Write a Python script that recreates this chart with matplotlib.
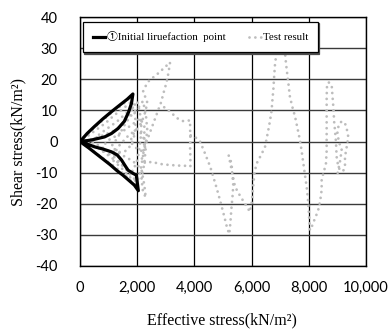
import numpy as np
import matplotlib
matplotlib.use("Agg")
import matplotlib.pyplot as plt
from matplotlib.ticker import FuncFormatter

plt.rcParams['axes.unicode_minus'] = False
plt.rcParams['path.simplify'] = False

# ①Initial liruefaction point (black loop)
init_x = [0, 250, 500, 800, 1100, 1400, 1650, 1850, 1800, 1700, 1550, 1330, 1100, 860, 400, 0,
          250, 510, 800, 1100, 1300, 1450, 1580, 1680, 1850, 1970, 2000, 2040,
          1900, 1700, 1500, 1300, 1050, 800, 550, 300, 0]
init_y = [0, 2.6, 4.8, 7.3, 9.6, 11.8, 13.6, 15.3, 12.3, 9.5, 6.5, 4.2, 2.6, 1.5, 0.5, 0,
          -0.8, -1.7, -2.4, -3.3, -4.3, -5.9, -7.8, -9.2, -10.2, -10.8, -13, -15.8,
          -14, -12.4, -10.8, -9.4, -7.4, -5.6, -3.8, -2.0, 0]

# Test result (gray dotted path, nan = break in the line)
nan = np.nan
test_x = [0, 500, 1000, 1500, 1800, 1850, 1700, 1500, 1200, 800, 400, 150,
          400, 800, 1200, 1500, 1700, 1900, 2000, 1800, 1500, 1200, 900, 600, 300, 100,
          300, 600, 900, 1200, 1500, 1750, 1900, 1950, 1900, 1800, 1600, 1300, 1000, 700, 400,
          700, 1000, 1300, 1600, 1850, 2000, 2100, 2150, 2100, 2000, 1850, 1600, 1300, 1000, 700,
          1000, 1300, 1600, 1900, 2100, 2250, 2250, 2200, 2100, 2000, 1750, 1450, 1150,
          1300, 1500, 1700, 2000, 2200, 2300, 2250, 2150, 2200, 2300, 2250, 2150, 1950, 1700, 1400,
          1100, 1300, 1600, 1800, 2050, 2200, 2300, 2350, 2300, 2150, 1950, 1750, 1900, 2150, 2300,
          2350, 2200,
          2330, 2450, 2620, 2800, 2980, 3150,
          3100, 3050, 2980, 2900, 2850, 2750, 2650, 2550, 2450, 2350, 2250,
          2150, 2300,
          2500, 2800, 3100, 3400, 3700, 3860,
          3860, 3850, 3860, 3850, 3850,
          3600, 3400, 3150, 2950, 2780,
          nan,
          3870, 4020, 4200, 4370, 4550, 4660, 4780, 4900, 5000, 5070, 5150, 5220, 5260, 5290,
          5330, 5360, 5320, 5300, 5200,
          5300, 5420, 5600, 5770, 5944,
          6000, 6050, 6100, 6180, 6350, 6470, 6585, 6650, 6700, 6730, 6760, 6790, 6820, 6880,
          6950, 7080, 7170, 7200, 7230, 7290, 7340, 7430, 7520, 7600, 7690, 7750, 7810, 7870,
          7925, 7960, 7983, 8010, 8040, 8100, 8160, 8250, 8330, 8400, 8450, 8450, 8520, 8600,
          8625, 8625, 8625, 8625, 8625, 8625, 8640, 8700, 8800, 8830, 8858, 8890, 8916, 8950,
          8974, 9030, 9090, 9200, 9266, 9266, 9330, 9382, 9330, 9266, 9150, 9050, 9000, 9050,
          9150, 9100, 9000]
test_y = [0, 4.5, 8.5, 12, 14.5, 11, 8, 5.5, 3.5, 2, 0.8, 0,
          -1, -2.8, -5, -7.5, -10, -12, -14.5, -12.8, -10.2, -8, -6, -4, -2, -0.5,
          2, 4, 6, 8.5, 10.5, 12.5, 10, 6, 2, -1, -3, -3.5, -3, -1.5, 0,
          2.5, 4.5, 6.5, 9, 11, 13, 9, 4, -1, -6, -9.5, -8.5, -6.5, -4.5, -2.5,
          0.5, 2, 4, 6, 7.5, 5, 0, -5, -10, -13, -11.5, -8.5, -6,
          -2, 0, 2, 4, 2, -2, -7, -12, -16, -18, -14, -9, -7, -5.5, -4,
          -1.5, 1, 6, 8.5, 11, 13, 9, 4, -1, -3, -2, 0, 3, 6, 10,
          13, 16,
          18.5, 20, 21, 22.5, 24, 25.5,
          22.5, 20, 17.5, 15, 13, 10.5, 8, 5.5, 3, 0.5, -2.5,
          -6, -7,
          -6.5, -7.2, -7.5, -7.7, -7.8, -8,
          -5, -2, 1, 4, 6.8,
          6.6, 7.5, 9.6, 11, 12,
          nan,
          2, 1.5, 0, -3.8, -8, -11.3, -15, -19, -22.5, -25, -28, -29.7, -26, -22,
          -18, -14, -10, -7, -4.5,
          -9, -14.5, -17.5, -20, -22.6,
          -20, -15, -10, -7, -4, -1.7, 3.7, 7, 10, 13.5, 16.6, 21, 25, 29,
          32, 32, 28.4, 25.5, 23, 18.5, 14.4, 11, 8, 4.5, 0.5, -3, -7, -11,
          -14.5, -17.5, -20, -24, -28.5, -27.5, -26, -24, -22, -19, -15.6, -12, -10, -7,
          -3, 0.5, 3.7, 7, 10.5, 14.4, 18.7, 19, 18.2, 14.5, 11.2, 6, 3.7, 0,
          -4.9, -8, -9.2, -9.5, -8.1, -4.9, -1.5, 1.5, 4, 5.9, 6.5, 5.5, 3, 0,
          -2.5, -6, -10.5]

x_ticks = [0, 2000, 4000, 6000, 8000, 10000]
y_ticks = [-40, -30, -20, -10, 0, 10, 20, 30, 40]

serif = ['Liberation Serif', 'Noto Sans CJK JP', 'DejaVu Sans']

fig = plt.figure(figsize=(3.91, 3.30), dpi=100)
ax = fig.add_axes([0.2046, 0.194, 0.7314, 0.754])

ax.plot(test_x, test_y, color='#BDBDBD', lw=2.0, dashes=(0.01, 2.1),
        dash_capstyle='round', label='Test result', zorder=2)
ax.plot(init_x, init_y, color='black', lw=2.3, solid_joinstyle='round',
        label='①Initial liruefaction  point', zorder=3)

ax.set_xlim(0, 10000)
ax.set_ylim(-40, 40)
ax.set_xticks(x_ticks)
ax.set_yticks(y_ticks)
ax.xaxis.set_major_formatter(FuncFormatter(lambda v, p: f'{int(v):,}'))

ax.grid(axis='y', color='#3a3a3a', lw=1.0, zorder=1)
ax.grid(axis='x', color='black', lw=0.9, zorder=1)
ax.set_axisbelow(True)
for s in ax.spines.values():
    s.set_color('black')
    s.set_linewidth(1.0)

ax.tick_params(length=0, labelsize=10.5)
ax.tick_params(axis='y', pad=16)
ax.tick_params(axis='x', pad=11)
for t in ax.get_xticklabels() + ax.get_yticklabels():
    t.set_fontfamily('Lato')

ax.set_xlabel('Effective stress(kN/m²)', family=serif, fontsize=11.5)
ax.set_ylabel('Shear stress(kN/m²)', family=serif, fontsize=11.5)
ax.xaxis.set_label_coords(0.498, -0.217)
ax.xaxis.label.set_va('center')
ax.yaxis.set_label_coords(-0.217, 0.5)
ax.yaxis.label.set_va('center')

h, l = ax.get_legend_handles_labels()
leg = ax.legend(h[::-1], l[::-1], ncol=2, loc='lower left',
                bbox_to_anchor=(0.0105, 0.859, 0.8215, 0.125), mode='expand',
                prop={'family': serif, 'size': 7.8}, fancybox=False,
                edgecolor='black', framealpha=1, borderpad=0.9,
                handlelength=1.1, handletextpad=0.2, columnspacing=0.8,
                borderaxespad=0,
                shadow={'ox': 1.0, 'oy': -1.0, 'color': '0.3', 'alpha': 1})
leg.get_frame().set_linewidth(0.9)
leg.set_zorder(5)

fig.savefig('out.png', dpi=100)
